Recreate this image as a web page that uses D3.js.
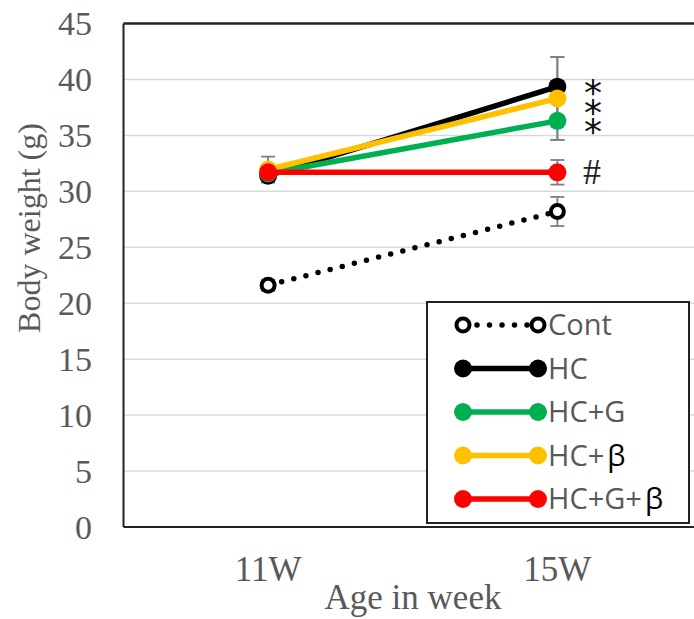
<!DOCTYPE html>
<html><head><meta charset="utf-8">
<script src="https://cdn.jsdelivr.net/npm/d3@7"></script>
<style>body{margin:0;background:#fff}</style>
</head><body>
<svg id="c" width="694" height="619"></svg>
<script>
const categories = ["11W", "15W"];
const seriesNames = ["Cont", "HC", "HC+G", "HC+β", "HC+G+β"];
const seriesColors = ["#000000", "#000000", "#00b050", "#ffc000", "#ff0000"];
const contValues = [21.6, 28.2];
const hcValues = [31.4, 39.35];
const hcgValues = [31.6, 36.3];
const hcbValues = [31.95, 38.3];
const hcgbValues = [31.7, 31.7];
const contErr = [0.5, 1.3];
const hcErr = [0.6, 2.65];
const hcgErr = [0.6, 1.7];
const hcbErr = [1.15, 3.7];
const hcgbErr = [0.6, 1.1];
const yTicks = [0, 5, 10, 15, 20, 25, 30, 35, 40, 45];
const starMarks = "***";
const hashMark = "#";

const values = [contValues, hcValues, hcgValues, hcbValues, hcgbValues];
const errs = [contErr, hcErr, hcgErr, hcbErr, hcgbErr];

const svg = d3.select("#c");
const L = 123.5, R = 702, T = 23.5, B = 527;
const x = d3.scaleBand().domain(categories).range([L, R]);
const xc = c => x(c) + x.bandwidth() / 2;
const y = d3.scaleLinear().domain([0, 45]).range([B, T]);
const grey = "#595959";

// gridlines
svg.append("g").selectAll("line").data(yTicks.filter(t => t > 0 && t < 45)).join("line")
  .attr("x1", L).attr("x2", R).attr("y1", d => y(d)).attr("y2", d => y(d))
  .attr("stroke", "#d9d9d9").attr("stroke-width", 1.5);

// y axis labels
const yAxis = d3.axisLeft(y).tickValues(yTicks).tickSize(0).tickPadding(0);
const ya = svg.append("g").attr("transform", `translate(92,0)`).call(yAxis);
ya.select(".domain").remove();
ya.selectAll("text").attr("fill", grey).attr("font-family", "Liberation Serif").attr("font-size", 34).attr("dy", "0.33em");

// x axis labels
const xAxis = d3.axisBottom(x).tickSize(0).tickPadding(0);
const xa = svg.append("g").attr("transform", `translate(0,556)`).call(xAxis);
xa.select(".domain").remove();
xa.selectAll("text").attr("fill", grey).attr("font-family", "Liberation Serif").attr("font-size", 35).attr("dy", "0.71em");

// frame
svg.append("line").attr("x1", L).attr("x2", R).attr("y1", T).attr("y2", T).attr("stroke", "#222").attr("stroke-width", 2.5);
svg.append("line").attr("x1", L).attr("x2", L).attr("y1", T).attr("y2", B).attr("stroke", "#222").attr("stroke-width", 2);
svg.append("line").attr("x1", L).attr("x2", R).attr("y1", B).attr("y2", B).attr("stroke", "#222").attr("stroke-width", 2);

// titles
svg.append("text").attr("transform", "translate(40,228) rotate(-90)").attr("text-anchor", "middle")
  .attr("font-family", "Liberation Serif").attr("font-size", 32).attr("fill", grey).text("Body weight (g)");
svg.append("text").attr("x", 413).attr("y", 609).attr("text-anchor", "middle")
  .attr("font-family", "Liberation Serif").attr("font-size", 35).attr("fill", grey).text("Age in week");

// error bars
const eg = svg.append("g");
values.forEach((vals, si) => {
  vals.forEach((v, ci) => {
    const cx = xc(categories[ci]), e = errs[si][ci];
    eg.append("line").attr("x1", cx).attr("x2", cx).attr("y1", y(v - e)).attr("y2", y(v + e)).attr("stroke", "#7f7f7f").attr("stroke-width", 1.8);
    [v - e, v + e].forEach(w => eg.append("line").attr("x1", cx - 7).attr("x2", cx + 7).attr("y1", y(w)).attr("y2", y(w)).attr("stroke", "#7f7f7f").attr("stroke-width", 1.8));
  });
});

// series
const line = d3.line().x((d, i) => xc(categories[i])).y(d => y(d));
values.forEach((vals, si) => {
  const g = svg.append("g");
  if (si === 0) {
    g.append("path").attr("d", line(vals)).attr("fill", "none").attr("stroke", "#000").attr("stroke-width", 5.5)
      .attr("stroke-linecap", "round").attr("stroke-dasharray", "0,12.5").attr("stroke-dashoffset", -14);
    g.selectAll("circle").data(vals).join("circle").attr("cx", (d, i) => xc(categories[i])).attr("cy", d => y(d))
      .attr("r", 6.5).attr("fill", "#fff").attr("stroke", "#000").attr("stroke-width", 4);
  } else {
    g.append("path").attr("d", line(vals)).attr("fill", "none").attr("stroke", seriesColors[si]).attr("stroke-width", 5.5);
    g.selectAll("circle").data(vals).join("circle").attr("cx", (d, i) => xc(categories[i])).attr("cy", d => y(d))
      .attr("r", 9).attr("fill", seriesColors[si]);
  }
});

// significance marks: one vertical text with three stacked asterisks
svg.append("text").attr("x", 593).attr("y", 72)
  .style("writing-mode", "vertical-rl").style("text-orientation", "upright")
  .attr("font-family", "DejaVu Sans").attr("font-size", 36).attr("letter-spacing", "-21.3px")
  .attr("fill", "#111").text(starMarks);
svg.append("text").attr("x", 592).attr("y", y(hcgbValues[1])).attr("dy", "0.33em").attr("text-anchor", "middle")
  .attr("font-family", "Liberation Serif").attr("font-size", 36).attr("fill", "#222").text(hashMark);

// legend
const lg = svg.append("g");
lg.append("rect").attr("x", 427).attr("y", 302).attr("width", 262).attr("height", 221).attr("fill", "#fff").attr("stroke", "#222").attr("stroke-width", 2);
seriesNames.forEach((n, i) => {
  const ly = 325 + i * 43.5, x1 = 463, x2 = 538;
  const c = seriesColors[i];
  if (i === 0) {
    lg.append("line").attr("x1", x1 + 14).attr("x2", x2 - 8).attr("y1", ly).attr("y2", ly).attr("stroke", "#000").attr("stroke-width", 5.5)
      .attr("stroke-linecap", "round").attr("stroke-dasharray", "0,12.5");
    [x1, x2].forEach(cx => lg.append("circle").attr("cx", cx).attr("cy", ly).attr("r", 6.5).attr("fill", "#fff").attr("stroke", "#000").attr("stroke-width", 4));
  } else {
    lg.append("line").attr("x1", x1).attr("x2", x2).attr("y1", ly).attr("y2", ly).attr("stroke", c).attr("stroke-width", 5.5);
    [x1, x2].forEach(cx => lg.append("circle").attr("cx", cx).attr("cy", ly).attr("r", 9).attr("fill", c));
  }
  const t = lg.append("text").attr("x", 548).attr("y", ly).attr("dy", "0.36em").attr("font-family", "Open Sans").attr("font-size", 29).attr("fill", grey);
  const parts = n.split("β");
  t.append("tspan").text(parts[0]);
  if (parts.length > 1) t.append("tspan").attr("fill", "#000").attr("dx", 3).text("β");
});
</script>
</body></html>
